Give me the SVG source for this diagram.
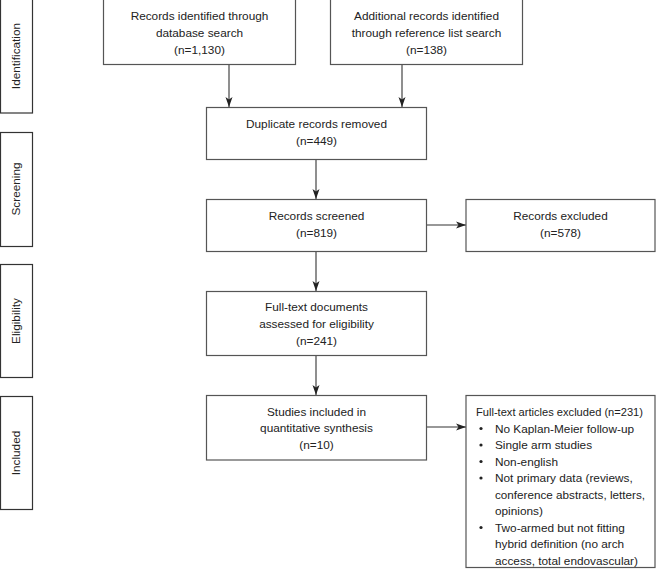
<svg xmlns="http://www.w3.org/2000/svg" width="656" height="577" viewBox="0 0 656 577">
<defs>
<style>
.box{fill:#fff;stroke:#555;stroke-width:1.2}
.side{fill:#fff;stroke:#333;stroke-width:1.2}
text{font-family:"Liberation Sans",Arial,Helvetica,sans-serif;font-size:11.8px;fill:#222}
.c{text-anchor:middle}
.conn{stroke:#333;stroke-width:1.1;fill:none;marker-end:url(#ah)}
</style>
<marker id="ah" viewBox="0 0 10 8" refX="10" refY="4" markerWidth="10" markerHeight="8" markerUnits="userSpaceOnUse" orient="auto">
<path d="M0,0.5 L10,4 L0,7.5 L2.5,4 Z" fill="#222"/>
</marker>
</defs>
<rect width="656" height="577" fill="#fff"/>

<g id="side-identification"><rect class="side" x="0.5" y="-1" width="32" height="114"/><text class="c" transform="translate(20,56) rotate(-90)">Identification</text></g>
<g id="side-screening"><rect class="side" x="0.5" y="132.5" width="32" height="114"/><text class="c" transform="translate(20,189) rotate(-90)">Screening</text></g>
<g id="side-eligibility"><rect class="side" x="0.5" y="264.5" width="32" height="113"/><text class="c" transform="translate(20,321) rotate(-90)">Eligibility</text></g>
<g id="side-included"><rect class="side" x="0.5" y="396.5" width="32" height="113"/><text class="c" transform="translate(20,453) rotate(-90)">Included</text></g>

<g id="connectors">
<line class="conn" x1="229" y1="64.5" x2="229" y2="107"/>
<line class="conn" x1="402" y1="64.5" x2="402" y2="107"/>
<line class="conn" x1="316" y1="159.5" x2="316" y2="199"/>
<line class="conn" x1="426.5" y1="225" x2="466" y2="225"/>
<line class="conn" x1="316" y1="251.5" x2="316" y2="291"/>
<line class="conn" x1="316" y1="355.5" x2="316" y2="395"/>
<line class="conn" x1="426.5" y1="427" x2="466" y2="427"/>
</g>

<g id="n-database"><rect class="box" x="103.5" y="-1" width="192" height="65.5"/>
<text class="c" x="199.5" y="20">Records identified through</text>
<text class="c" x="199.5" y="37">database search</text>
<text class="c" x="199.5" y="54">(n=1,130)</text></g>

<g id="n-reference"><rect class="box" x="330.5" y="-1" width="192" height="65.5"/>
<text class="c" x="426.5" y="20">Additional records identified</text>
<text class="c" x="426.5" y="37">through reference list search</text>
<text class="c" x="426.5" y="54">(n=138)</text></g>

<g id="n-duplicates"><rect class="box" x="206.5" y="107.5" width="220" height="52"/>
<text class="c" x="316.5" y="128">Duplicate records removed</text>
<text class="c" x="316.5" y="145">(n=449)</text></g>

<g id="n-screened"><rect class="box" x="206.5" y="199.5" width="220" height="52"/>
<text class="c" x="316.5" y="220">Records screened</text>
<text class="c" x="316.5" y="237">(n=819)</text></g>

<g id="n-excluded"><rect class="box" x="466" y="199.5" width="189" height="52"/>
<text class="c" x="560.5" y="220">Records excluded</text>
<text class="c" x="560.5" y="237">(n=578)</text></g>

<g id="n-fulltext"><rect class="box" x="206.5" y="291.5" width="220" height="64"/>
<text class="c" x="316.5" y="311">Full-text documents</text>
<text class="c" x="316.5" y="328">assessed for eligibility</text>
<text class="c" x="316.5" y="345">(n=241)</text></g>

<g id="n-studies"><rect class="box" x="206.5" y="395.5" width="220" height="64.5"/>
<text class="c" x="316.5" y="416">Studies included in</text>
<text class="c" x="316.5" y="432">quantitative synthesis</text>
<text class="c" x="316.5" y="449">(n=10)</text></g>

<g id="n-fulltext-excluded"><rect class="box" x="466" y="395.5" width="189" height="172"/>
<text x="476" y="416" textLength="167" lengthAdjust="spacingAndGlyphs">Full-text articles excluded (n=231)</text>
<g>
<circle cx="481" cy="428.5" r="1.6" fill="#222"/>
<circle cx="481" cy="445" r="1.6" fill="#222"/>
<circle cx="481" cy="461.5" r="1.6" fill="#222"/>
<circle cx="481" cy="478" r="1.6" fill="#222"/>
<circle cx="481" cy="527.5" r="1.6" fill="#222"/>
</g>
<text x="495" y="432.5">No Kaplan-Meier follow-up</text>
<text x="495" y="449">Single arm studies</text>
<text x="495" y="465.5">Non-english</text>
<text x="495" y="482">Not primary data (reviews,</text>
<text x="495" y="498.5" textLength="150" lengthAdjust="spacingAndGlyphs">conference abstracts, letters,</text>
<text x="495" y="515">opinions)</text>
<text x="495" y="531.5">Two-armed but not fitting</text>
<text x="495" y="548">hybrid definition (no arch</text>
<text x="495" y="564.5">access, total endovascular)</text></g>
</svg>
